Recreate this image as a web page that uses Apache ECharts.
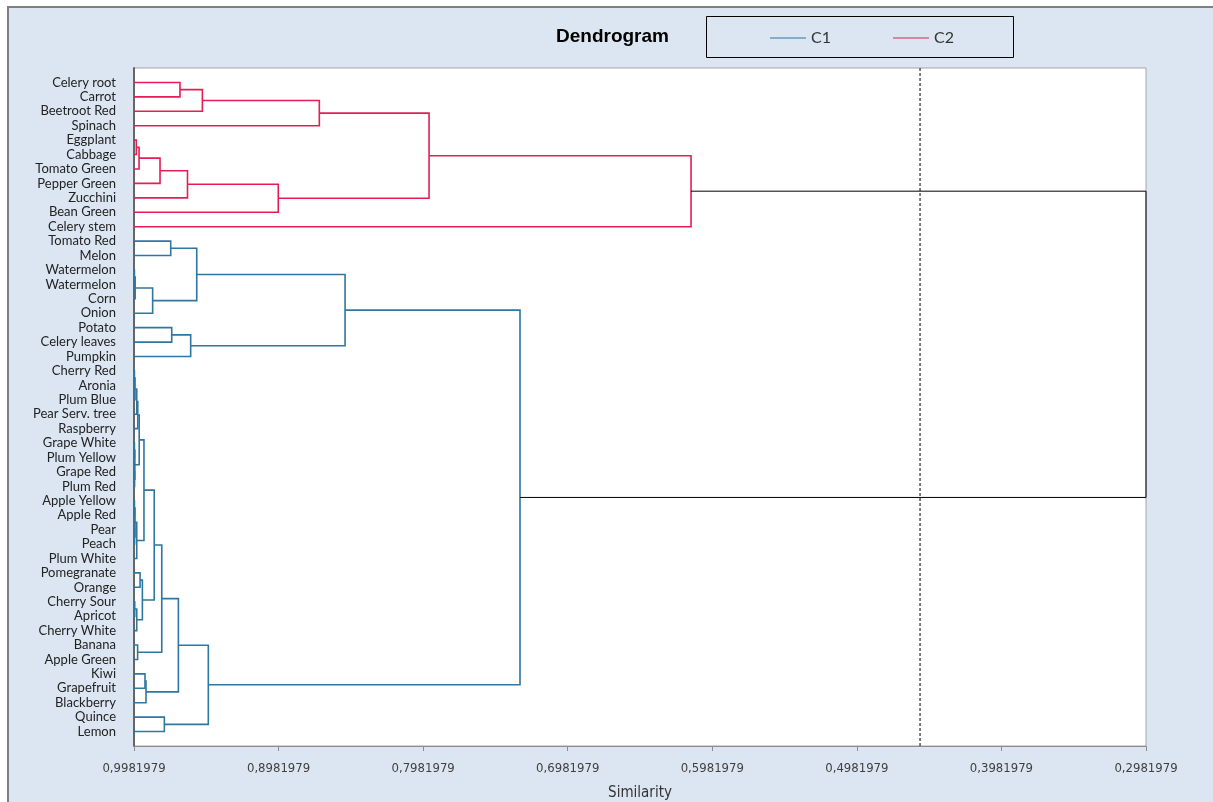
<!DOCTYPE html>
<html>
<head>
<meta charset="utf-8">
<title>Dendrogram</title>
<script src="https://cdn.jsdelivr.net/npm/echarts@6/dist/echarts.min.js"></script>
<style>
  html, body { margin: 0; padding: 0; background: #ffffff; }
  #chart { width: 1213px; height: 802px; }
</style>
</head>
<body>
<div id="chart"></div>
<script>
// Leaves in display order, top to bottom
const leaves = [
  'Celery root', 'Carrot', 'Beetroot Red', 'Spinach', 'Eggplant', 'Cabbage',
  'Tomato Green', 'Pepper Green', 'Zucchini', 'Bean Green', 'Celery stem',
  'Tomato Red', 'Melon', 'Watermelon', 'Watermelon', 'Corn', 'Onion', 'Potato',
  'Celery leaves', 'Pumpkin', 'Cherry Red', 'Aronia', 'Plum Blue',
  'Pear Serv. tree', 'Raspberry', 'Grape White', 'Plum Yellow', 'Grape Red',
  'Plum Red', 'Apple Yellow', 'Apple Red', 'Pear', 'Peach', 'Plum White',
  'Pomegranate', 'Orange', 'Cherry Sour', 'Apricot', 'Cherry White', 'Banana',
  'Apple Green', 'Kiwi', 'Grapefruit', 'Blackberry', 'Quince', 'Lemon'
];

// Merges as [nodeA, nodeB, similarity]. Leaves are 0..45; every merge creates
// a new node numbered from 46 upward in the order listed (C2 first, then C1).
const mergesC2 = [
  [0, 1, 0.9664], [46, 2, 0.9509], [47, 3, 0.8700],
  [4, 5, 0.9966], [49, 6, 0.9947], [50, 7, 0.9802], [51, 8, 0.9612],
  [52, 9, 0.8984], [48, 53, 0.7941], [54, 10, 0.6129]
];
const mergesC1 = [
  [11, 12, 0.9728], [13, 14, 0.9979], [57, 15, 0.9974], [58, 16, 0.9853],
  [56, 59, 0.9548], [17, 18, 0.9721], [61, 19, 0.9590], [60, 62, 0.8522],
  [20, 21, 0.9979], [64, 22, 0.9975], [65, 23, 0.9963], [66, 24, 0.9956],
  [25, 26, 0.9979], [27, 28, 0.9978], [68, 69, 0.9976], [67, 70, 0.9946],
  [29, 30, 0.9979], [31, 32, 0.9978], [72, 73, 0.9975], [74, 33, 0.9963],
  [71, 75, 0.9913], [34, 35, 0.9940], [36, 37, 0.9977], [78, 38, 0.9963],
  [77, 79, 0.9924], [76, 80, 0.9842], [39, 40, 0.9957], [81, 82, 0.9790],
  [41, 42, 0.9906], [84, 43, 0.9899], [83, 85, 0.9675], [44, 45, 0.9772],
  [86, 87, 0.9468], [63, 88, 0.7312]
];
const rootMerge = [55, 89, 0.2981979];

const leafSimilarity = 0.9981979;
const minSimilarity = 0.2981979;
const cutLevel = 0.4545;
const xTicks = [0.9981979, 0.8981979, 0.7981979, 0.6981979, 0.5981979, 0.4981979, 0.3981979, 0.2981979];

const colorC1 = '#2f76a0';
const colorC2 = '#e41e55';

// Node positions: similarity along x, leaf slot along y
const nodes = leaves.map((_, i) => ({ s: leafSimilarity, y: i }));
function buildLinks(merges) {
  return merges.map(([a, b, s]) => {
    const na = nodes[a], nb = nodes[b];
    nodes.push({ s: s, y: (na.y + nb.y) / 2 });
    return [na.s, na.y, nb.s, nb.y, s];
  });
}
const linksC2 = buildLinks(mergesC2);
const linksC1 = buildLinks(mergesC1);
const linksRoot = buildLinks([rootMerge]);

function linkSeries(name, data, color, width) {
  return {
    name: name,
    type: 'custom',
    data: data,
    silent: true,
    itemStyle: { color: color },
    encode: { x: [0, 2, 4], y: [1, 3] },
    renderItem: function (params, api) {
      const s = api.value(4);
      const p1 = api.coord([api.value(0), api.value(1)]);
      const k1 = api.coord([s, api.value(1)]);
      const k2 = api.coord([s, api.value(3)]);
      const p2 = api.coord([api.value(2), api.value(3)]);
      return {
        type: 'polyline',
        shape: { points: [p1, k1, k2, p2] },
        style: { stroke: color, lineWidth: width, fill: null }
      };
    }
  };
}

const fmt = v => v.toFixed(7).replace('.', ',');
const narrowFont = "'Liberation Sans Narrow', 'DejaVu Sans Condensed', sans-serif";

const chart = echarts.init(document.getElementById('chart'), null, { renderer: 'canvas' });
chart.setOption({
  backgroundColor: '#dce6f2',
  animation: false,
  title: {
    text: 'Dendrogram',
    left: 556,
    top: 27,
    padding: 0,
    textStyle: { fontFamily: 'Liberation Sans', fontWeight: 'bold', fontSize: 19, color: '#000' }
  },
  legend: {
    data: [
      { name: 'C1', icon: 'rect', itemStyle: { color: colorC1 } },
      { name: 'C2', icon: 'rect', itemStyle: { color: colorC2 } }
    ],
    left: 770,
    top: 30,
    padding: 0,
    itemWidth: 36,
    itemHeight: 1,
    itemGap: 62,
    selectedMode: false,
    textStyle: { fontFamily: 'Lato', fontSize: 16, color: '#333' }
  },
  graphic: [
    { type: 'rect', silent: true, shape: { x: 0, y: 0, width: 1213, height: 6 }, style: { fill: '#fff' } },
    { type: 'rect', silent: true, shape: { x: 0, y: 0, width: 7, height: 802 }, style: { fill: '#fff' } },
    { type: 'line', silent: true, shape: { x1: 7, y1: 7, x2: 1213, y2: 7 }, style: { stroke: '#808080', lineWidth: 2 } },
    { type: 'line', silent: true, shape: { x1: 8, y1: 7, x2: 8, y2: 802 }, style: { stroke: '#808080', lineWidth: 2 } },
    { type: 'rect', silent: true, shape: { x: 706.5, y: 16.5, width: 307, height: 41 }, style: { fill: 'none', stroke: '#000', lineWidth: 1 } }
  ],
  grid: {
    left: 134, right: 67, top: 68, bottom: 56,
    outerBoundsMode: 'none',
    containLabel: false,
    show: true, backgroundColor: '#fff', borderColor: '#a6a6a6', borderWidth: 1
  },
  xAxis: {
    type: 'value',
    inverse: true,
    min: minSimilarity,
    max: leafSimilarity,
    name: 'Similarity',
    nameLocation: 'middle',
    nameGap: 40,
    nameTextStyle: { fontFamily: narrowFont, fontSize: 15, color: '#333' },
    axisLine: { show: true, onZero: false, lineStyle: { color: '#8c8c8c', width: 1 } },
    axisTick: { show: true, length: 5, customValues: xTicks, lineStyle: { color: '#8c8c8c' } },
    axisLabel: {
      customValues: xTicks,
      formatter: fmt,
      margin: 16,
      fontFamily: narrowFont,
      fontSize: 13,
      color: '#404040'
    },
    splitLine: { show: false }
  },
  yAxis: {
    type: 'value',
    inverse: true,
    min: -1,
    max: 46,
    interval: 1,
    axisLine: { show: true, onZero: false, lineStyle: { color: '#666', width: 2 } },
    axisTick: { show: false },
    splitLine: { show: false },
    axisLabel: {
      margin: 18,
      fontFamily: 'Lato',
      fontSize: 13,
      color: '#222',
      formatter: v => (Number.isInteger(v) && leaves[v]) ? leaves[v] : ''
    }
  },
  series: [
    linkSeries('C1', linksC1, colorC1, 1.6),
    linkSeries('C2', linksC2, colorC2, 1.6),
    linkSeries('root', linksRoot, '#000', 1),
    {
      name: 'cut',
      type: 'line',
      silent: true,
      symbol: 'none',
      data: [[cutLevel, -1], [cutLevel, 46]],
      lineStyle: { color: '#000', width: 1, type: [3, 2] }
    }
  ]
});
</script>
</body>
</html>
